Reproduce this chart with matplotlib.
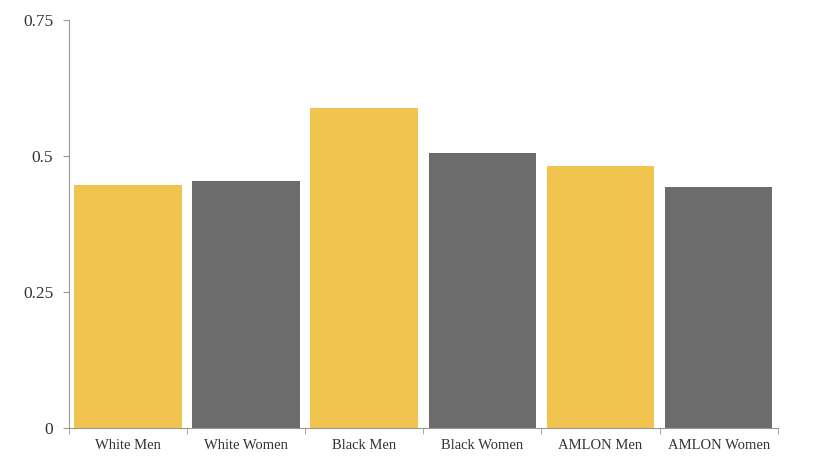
import matplotlib
matplotlib.use("Agg")
import matplotlib.pyplot as plt
import numpy as np

categories = ["White Men", "White Women", "Black Men", "Black Women", "AMLON Men", "AMLON Women"]
values = [0.447, 0.454, 0.588, 0.505, 0.482, 0.443]
colors = ["#F0C44F", "#6C6C6C", "#F0C44F", "#6C6C6C", "#F0C44F", "#6C6C6C"]
yticks = [0, 0.25, 0.5, 0.75]
ytick_labels = ["0", "0.25", "0.5", "0.75"]

plt.rcParams["font.family"] = ["Liberation Serif", "DejaVu Serif"]

fig = plt.figure(figsize=(8.17, 4.58), dpi=100)
ax = fig.add_axes([0.084, 0.066, 0.868, 0.89])

x = np.arange(len(categories))
ax.bar(x, values, width=0.91, color=colors)

ax.set_xlim(-0.5, len(categories) - 0.5)
ax.set_ylim(0, 0.75)
ax.set_yticks(yticks)
ax.set_yticklabels(ytick_labels, fontsize=12.5, color="#333333")
ax.set_xticks(x)
ax.set_xticklabels(categories, fontsize=10.5, color="#333333")
ax.tick_params(axis="x", length=0, pad=8)
ax.set_xticks(np.arange(len(categories) + 1) - 0.5, minor=True)
ax.tick_params(axis="x", which="minor", length=4, color="#999999")
ax.tick_params(axis="y", length=4, color="#999999", pad=7)

for s in ["top", "right"]:
    ax.spines[s].set_visible(False)
for s in ["left", "bottom"]:
    ax.spines[s].set_color("#999999")
    ax.spines[s].set_linewidth(0.8)

fig.savefig("out.png", dpi=100)
